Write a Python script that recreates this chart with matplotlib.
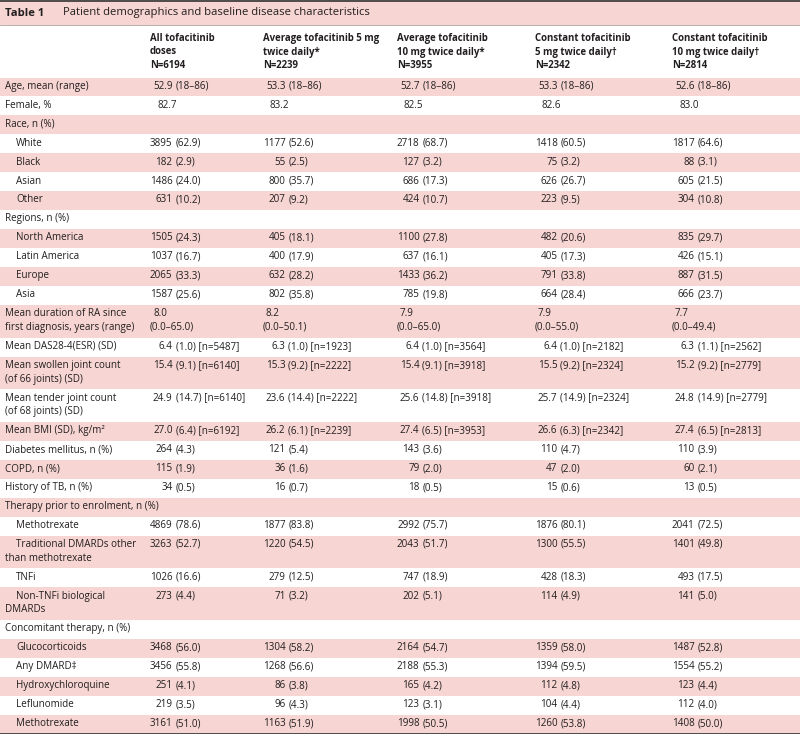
import matplotlib
matplotlib.use("Agg")
import matplotlib.pyplot as plt
from matplotlib.patches import Rectangle

plt.rcParams['font.family'] = ['Open Sans', 'DejaVu Sans']

title_bold = "Table 1"
title_text = "Patient demographics and baseline disease characteristics"

col_headers = [
    "All tofacitinib\ndoses\nN=6194",
    "Average tofacitinib 5 mg\ntwice daily*\nN=2239",
    "Average tofacitinib\n10 mg twice daily*\nN=3955",
    "Constant tofacitinib\n5 mg twice daily\u2020\nN=2342",
    "Constant tofacitinib\n10 mg twice daily\u2020\nN=2814",
]

row_labels = [
    "Age, mean (range)", "Female, %", "Race, n (%)",
    "White", "Black", "Asian", "Other",
    "Regions, n (%)",
    "North America", "Latin America", "Europe", "Asia",
    "Mean duration of RA since\nfirst diagnosis, years (range)",
    "Mean DAS28-4(ESR) (SD)",
    "Mean swollen joint count\n(of 66 joints) (SD)",
    "Mean tender joint count\n(of 68 joints) (SD)",
    "Mean BMI (SD), kg/m\u00b2",
    "Diabetes mellitus, n (%)", "COPD, n (%)", "History of TB, n (%)",
    "Therapy prior to enrolment, n (%)",
    "Methotrexate",
    "Traditional DMARDs other\nthan methotrexate",
    "TNFi",
    "Non-TNFi biological\nDMARDs",
    "Concomitant therapy, n (%)",
    "Glucocorticoids", "Any DMARD\u2021", "Hydroxychloroquine", "Leflunomide", "Methotrexate",
]

row_indent = [
    0, 0, 0,
    1, 1, 1, 1,
    0,
    1, 1, 1, 1,
    0, 0, 0, 0, 0, 0, 0, 0, 0,
    1, 1, 1, 1,
    0,
    1, 1, 1, 1, 1,
]

all_doses = [
    "52.9 (18\u201386)", "82.7", "",
    "3895 (62.9)", "182 (2.9)", "1486 (24.0)", "631 (10.2)", "",
    "1505 (24.3)", "1037 (16.7)", "2065 (33.3)", "1587 (25.6)",
    "8.0\n(0.0\u201365.0)", "6.4 (1.0) [n=5487]", "15.4 (9.1) [n=6140]",
    "24.9 (14.7) [n=6140]", "27.0 (6.4) [n=6192]",
    "264 (4.3)", "115 (1.9)", "34 (0.5)", "",
    "4869 (78.6)", "3263 (52.7)", "1026 (16.6)", "273 (4.4)", "",
    "3468 (56.0)", "3456 (55.8)", "251 (4.1)", "219 (3.5)", "3161 (51.0)",
]

avg_5mg = [
    "53.3 (18\u201386)", "83.2", "",
    "1177 (52.6)", "55 (2.5)", "800 (35.7)", "207 (9.2)", "",
    "405 (18.1)", "400 (17.9)", "632 (28.2)", "802 (35.8)",
    "8.2\n(0.0\u201350.1)", "6.3 (1.0) [n=1923]", "15.3 (9.2) [n=2222]",
    "23.6 (14.4) [n=2222]", "26.2 (6.1) [n=2239]",
    "121 (5.4)", "36 (1.6)", "16 (0.7)", "",
    "1877 (83.8)", "1220 (54.5)", "279 (12.5)", "71 (3.2)", "",
    "1304 (58.2)", "1268 (56.6)", "86 (3.8)", "96 (4.3)", "1163 (51.9)",
]

avg_10mg = [
    "52.7 (18\u201386)", "82.5", "",
    "2718 (68.7)", "127 (3.2)", "686 (17.3)", "424 (10.7)", "",
    "1100 (27.8)", "637 (16.1)", "1433 (36.2)", "785 (19.8)",
    "7.9\n(0.0\u201365.0)", "6.4 (1.0) [n=3564]", "15.4 (9.1) [n=3918]",
    "25.6 (14.8) [n=3918]", "27.4 (6.5) [n=3953]",
    "143 (3.6)", "79 (2.0)", "18 (0.5)", "",
    "2992 (75.7)", "2043 (51.7)", "747 (18.9)", "202 (5.1)", "",
    "2164 (54.7)", "2188 (55.3)", "165 (4.2)", "123 (3.1)", "1998 (50.5)",
]

const_5mg = [
    "53.3 (18\u201386)", "82.6", "",
    "1418 (60.5)", "75 (3.2)", "626 (26.7)", "223 (9.5)", "",
    "482 (20.6)", "405 (17.3)", "791 (33.8)", "664 (28.4)",
    "7.9\n(0.0\u201355.0)", "6.4 (1.0) [n=2182]", "15.5 (9.2) [n=2324]",
    "25.7 (14.9) [n=2324]", "26.6 (6.3) [n=2342]",
    "110 (4.7)", "47 (2.0)", "15 (0.6)", "",
    "1876 (80.1)", "1300 (55.5)", "428 (18.3)", "114 (4.9)", "",
    "1359 (58.0)", "1394 (59.5)", "112 (4.8)", "104 (4.4)", "1260 (53.8)",
]

const_10mg = [
    "52.6 (18\u201386)", "83.0", "",
    "1817 (64.6)", "88 (3.1)", "605 (21.5)", "304 (10.8)", "",
    "835 (29.7)", "426 (15.1)", "887 (31.5)", "666 (23.7)",
    "7.7\n(0.0\u201349.4)", "6.3 (1.1) [n=2562]", "15.2 (9.2) [n=2779]",
    "24.8 (14.9) [n=2779]", "27.4 (6.5) [n=2813]",
    "110 (3.9)", "60 (2.1)", "13 (0.5)", "",
    "2041 (72.5)", "1401 (49.8)", "493 (17.5)", "141 (5.0)", "",
    "1487 (52.8)", "1554 (55.2)", "123 (4.4)", "112 (4.0)", "1408 (50.0)",
]

columns = [all_doses, avg_5mg, avg_10mg, const_5mg, const_10mg]

# ---- layout / style ----
W, H = 800, 734
PINK = '#f6d5d2'
TXT = '#231f20'
FS = 7.1
HFS = 6.95
TFS = 8.15
col_x = [150, 263, 397, 535, 672]
anchor_off = 22.5
label_x, indent_x = 5, 16
row_h = 18.95
line_step = 13.75
table_top = 77.5

fig = plt.figure(figsize=(W / 100, H / 100), dpi=100)
ax = fig.add_axes([0, 0, 1, 1])
ax.set_xlim(0, W)
ax.set_ylim(H, 0)
ax.axis('off')

# title band
ax.add_patch(Rectangle((0, 0), W, 25, facecolor=PINK, edgecolor='none'))
ax.plot([0, W], [0.8, 0.8], color='#333333', lw=1.2, solid_capstyle='butt')
ax.plot([0, W], [25, 25], color='#9a8f8e', lw=0.5)
ax.text(5, 13.0, title_bold, fontsize=TFS, fontweight='bold', color=TXT, va='center', ha='left')
ax.text(63, 13.0, title_text, fontsize=TFS, color=TXT, va='center', ha='left')

# headers
for cx, hdr in zip(col_x, col_headers):
    for k, line in enumerate(hdr.split('\n')):
        ax.text(cx, 38.5 + k * 13.5, line, fontsize=HFS, fontweight='bold', color=TXT,
                va='center', ha='left')


def draw_value(cx, y, s):
    if s == "":
        return
    lines = s.split('\n')
    if len(lines) > 1:
        for k, ln in enumerate(lines):
            ax.text(cx + (3 if k == 0 else 0), y + k * line_step, ln, fontsize=FS,
                    color=TXT, va='center', ha='left')
        return
    if ' ' in s:
        head, tail = s.split(' ', 1)
        a = cx + anchor_off
        ax.text(a, y, head, fontsize=FS, color=TXT, va='center', ha='right')
        ax.text(a + 3.0, y, tail, fontsize=FS, color=TXT, va='center', ha='left')
    else:
        ax.text(cx + 7, y, s, fontsize=FS, color=TXT, va='center', ha='left')


y = table_top
for i, label in enumerate(row_labels):
    nl = label.count('\n') + 1
    h = row_h + (nl - 1) * line_step
    if i % 2 == 0:
        ax.add_patch(Rectangle((0, y), W, h, facecolor=PINK, edgecolor='none'))
    ty = y + 8.8
    for k, ln in enumerate(label.split('\n')):
        lx = indent_x if (row_indent[i] and k == 0) else label_x
        ax.text(lx, ty + k * line_step, ln, fontsize=FS, color=TXT, va='center', ha='left')
    for cx, col in zip(col_x, columns):
        draw_value(cx, ty, col[i])
    y += h

ax.plot([0, W], [y, y], color='#333333', lw=1.2, solid_capstyle='butt')

fig.savefig('out.png', dpi=100)
